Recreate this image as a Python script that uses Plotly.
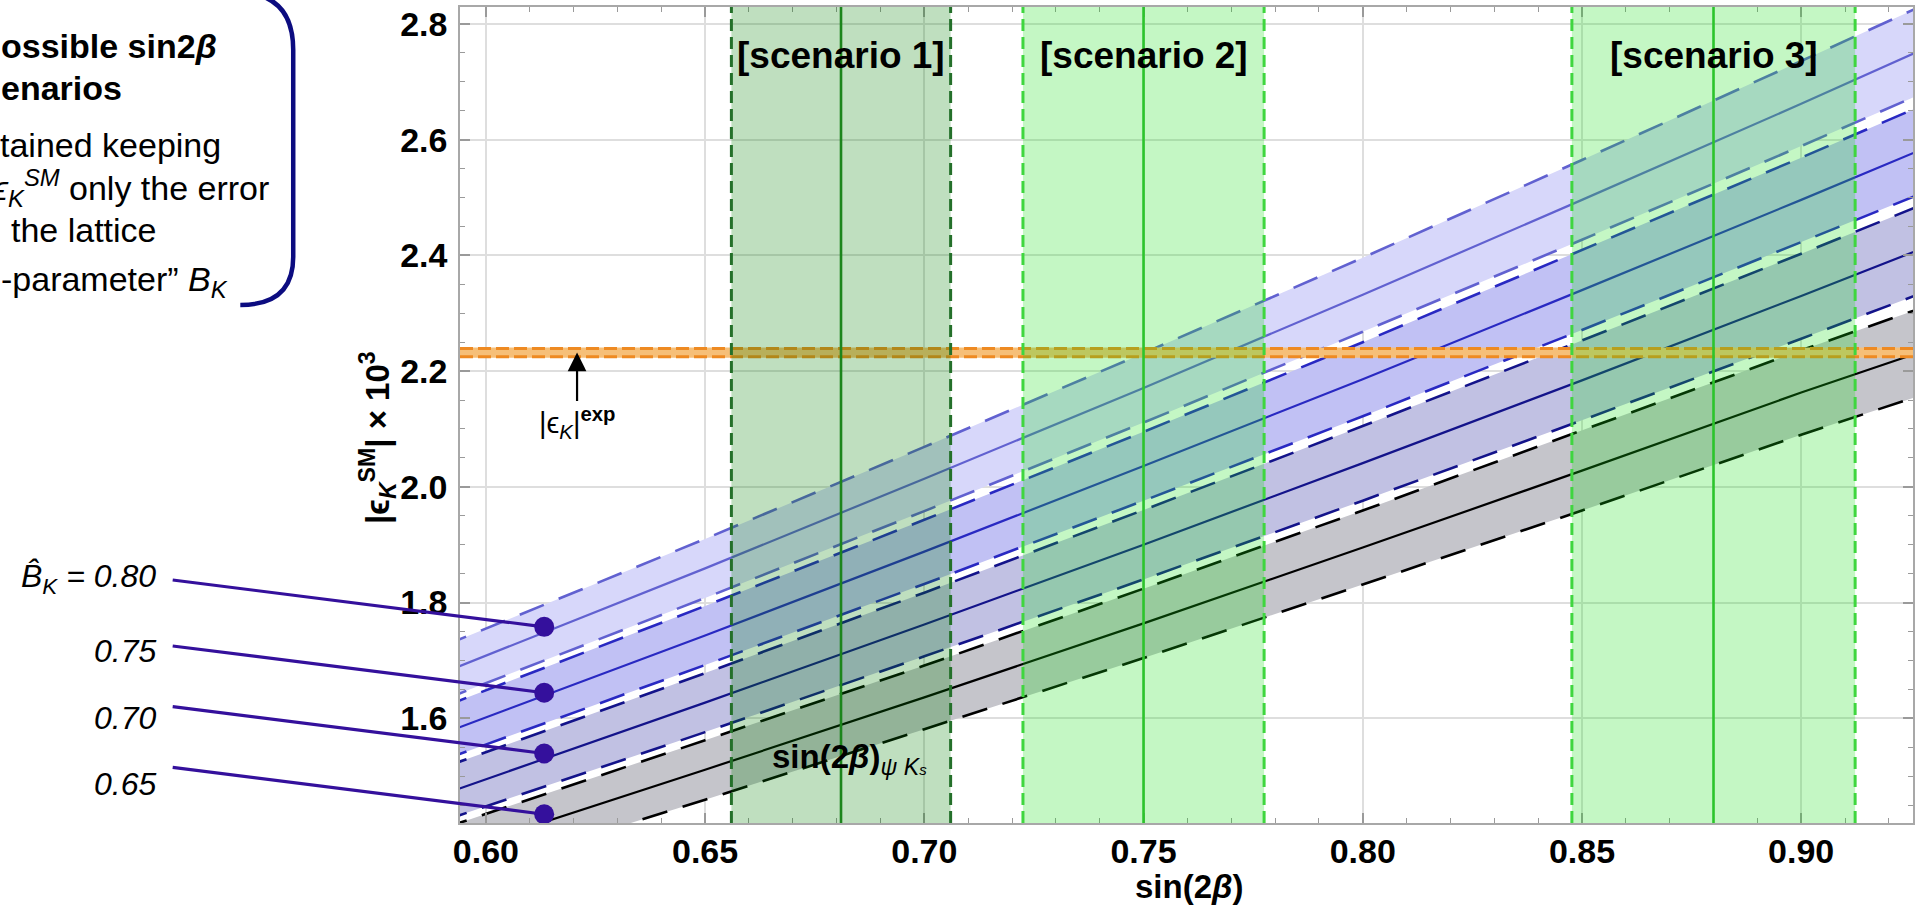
import numpy as np
import plotly.graph_objects as go

# ---------------- data ----------------
# sin(2beta) sample points along each curve
S2B = [0.59, 0.65, 0.70, 0.75, 0.80, 0.85, 0.90, 0.93]

BK_VALUES = [0.80, 0.75, 0.70, 0.65]

# |eps_K^SM| x 10^3 : central curves and lattice-error edges for each B_K
EPS_080_MID = [1.678, 1.859, 2.014, 2.171, 2.332, 2.496, 2.662, 2.764]
EPS_080_HI = [1.724, 1.910, 2.069, 2.231, 2.396, 2.565, 2.736, 2.840]
EPS_080_LO = [1.631, 1.808, 1.958, 2.111, 2.268, 2.427, 2.589, 2.688]

EPS_075_MID = [1.573, 1.743, 1.888, 2.036, 2.186, 2.340, 2.496, 2.591]
EPS_075_HI = [1.619, 1.794, 1.943, 2.095, 2.250, 2.409, 2.569, 2.667]
EPS_075_LO = [1.527, 1.692, 1.832, 1.976, 2.122, 2.271, 2.423, 2.515]

EPS_070_MID = [1.468, 1.627, 1.762, 1.900, 2.041, 2.184, 2.330, 2.419]
EPS_070_HI = [1.514, 1.678, 1.817, 1.960, 2.105, 2.253, 2.403, 2.495]
EPS_070_LO = [1.422, 1.576, 1.707, 1.840, 1.976, 2.115, 2.256, 2.342]

EPS_065_MID = [1.363, 1.511, 1.636, 1.764, 1.895, 2.028, 2.163, 2.240]
EPS_065_HI = [1.409, 1.562, 1.691, 1.824, 1.959, 2.097, 2.236, 2.316]
EPS_065_LO = [1.317, 1.459, 1.581, 1.704, 1.831, 1.959, 2.090, 2.165]

# markers tying each B_K label to its curve
DOT_S2B = 0.6133
DOT_EPS = [1.758, 1.644, 1.539, 1.434]
BK_LABELS = ["<i>B\u0302</i><sub><i>K</i></sub><i> = 0.80</i>", "<i>0.75</i>", "<i>0.70</i>", "<i>0.65</i>"]

# experimental value of |eps_K| x 10^3
EPS_EXP = 2.232
EPS_EXP_ERR = 0.009
EPS_EXP_ARROW_S2B = 0.6208

# sin(2beta) scenarios: central value and half width
SCEN_NAMES = ["[scenario 1]", "[scenario 2]", "[scenario 3]"]
SCEN_CENTER = [0.681, 0.750, 0.880]
SCEN_HALF = [0.025, 0.0275, 0.0323]

X_TICKS = [0.60, 0.65, 0.70, 0.75, 0.80, 0.85, 0.90]
X_TICK_TEXT = ["0.60", "0.65", "0.70", "0.75", "0.80", "0.85", "0.90"]
Y_TICKS = [1.6, 1.8, 2.0, 2.2, 2.4, 2.6, 2.8]
Y_TICK_TEXT = ["1.6", "1.8", "2.0", "2.2", "2.4", "2.6", "2.8"]

X_RANGE = [0.5941, 0.9255]
Y_RANGE = [1.4189, 2.8294]

# ---------------- styling ----------------
W, H = 1920, 908
ML, MR, MT, MB = 460, 5, 7, 85
PW, PH = W - ML - MR, H - MT - MB

FONT = "Liberation Sans, Arial, Helvetica, sans-serif"

BAND_FILL = ["#d7d7fa", "#c1c1f4", "#c1c1e3", "#c5c5cb"]
BAND_LINE = ["#6161d0", "#2929c2", "#13138a", "#000000"]
INDIGO = "#34109c"


def px_x(px):
    return (px - ML) / PW


def px_y(py):
    return (H - MB - py) / PH


bands = [
    (EPS_080_LO, EPS_080_MID, EPS_080_HI),
    (EPS_075_LO, EPS_075_MID, EPS_075_HI),
    (EPS_070_LO, EPS_070_MID, EPS_070_HI),
    (EPS_065_LO, EPS_065_MID, EPS_065_HI),
]

fig = go.Figure()

# band fills first
for (lo, mid, hi), fc in zip(bands, BAND_FILL):
    fig.add_trace(go.Scatter(x=S2B, y=lo, mode="lines", line=dict(width=0),
                             hoverinfo="skip", showlegend=False))
    fig.add_trace(go.Scatter(x=S2B, y=hi, mode="lines", line=dict(width=0),
                             fill="tonexty", fillcolor=fc,
                             hoverinfo="skip", showlegend=False))

# band edges (dashed) and central curves (solid)
for (lo, mid, hi), lc in zip(bands, BAND_LINE):
    for edge in (hi, lo):
        fig.add_trace(go.Scatter(x=S2B, y=edge, mode="lines",
                                 line=dict(color=lc, width=2.6, dash="26px,16px"),
                                 hoverinfo="skip", showlegend=False))
    fig.add_trace(go.Scatter(x=S2B, y=mid, mode="lines",
                             line=dict(color=lc, width=2.2),
                             hoverinfo="skip", showlegend=False))

# B_K markers
fig.add_trace(go.Scatter(x=[DOT_S2B] * len(DOT_EPS), y=DOT_EPS, mode="markers",
                         marker=dict(size=20, color=INDIGO),
                         hoverinfo="skip", showlegend=False, cliponaxis=False))

shapes = []

# experimental band
shapes.append(dict(type="rect", xref="paper", yref="y", x0=0, x1=1,
                   y0=EPS_EXP - EPS_EXP_ERR, y1=EPS_EXP + EPS_EXP_ERR,
                   fillcolor="#f6bf78", line=dict(width=0), layer="above"))
for yv in (EPS_EXP - EPS_EXP_ERR * 0.8, EPS_EXP + EPS_EXP_ERR * 0.8):
    shapes.append(dict(type="line", xref="paper", yref="y", x0=0, x1=1, y0=yv, y1=yv,
                       line=dict(color="#ee8a22", width=3, dash="13px,5px"), layer="above"))

# scenario bands
scen_fill = ["rgba(0,128,0,0.25)", "rgba(20,225,20,0.25)", "rgba(20,225,20,0.25)"]
scen_edge = ["#24702a", "#3fd63f", "#3fd63f"]
scen_mid = ["#1c851c", "#2cc42c", "#2cc42c"]
for c, hw, fc in zip(SCEN_CENTER, SCEN_HALF, scen_fill):
    shapes.append(dict(type="rect", xref="x", yref="paper", x0=c - hw, x1=c + hw, y0=0, y1=1,
                       fillcolor=fc, line=dict(width=0), layer="above"))
for c, hw, ec, mc in zip(SCEN_CENTER, SCEN_HALF, scen_edge, scen_mid):
    for xv in (c - hw, c + hw):
        shapes.append(dict(type="line", xref="x", yref="paper", x0=xv, x1=xv, y0=0, y1=1,
                           line=dict(color=ec, width=3, dash="12px,6px"), layer="above"))
    shapes.append(dict(type="line", xref="x", yref="paper", x0=c, x1=c, y0=0, y1=1,
                       line=dict(color=mc, width=2.6), layer="above"))

# rounded bracket closing the note box at top left
bx = [235, 293, 293, 293, 293, 240]
by = [-8, -8, 50, 257, 305, 305]
path = "M {:.5f},{:.5f} Q {:.5f},{:.5f} {:.5f},{:.5f} L {:.5f},{:.5f} Q {:.5f},{:.5f} {:.5f},{:.5f}".format(
    px_x(bx[0]), px_y(by[0]), px_x(bx[1]), px_y(by[1]), px_x(bx[2]), px_y(by[2]),
    px_x(bx[3]), px_y(by[3]), px_x(bx[4]), px_y(by[4]), px_x(bx[5]), px_y(by[5]))
shapes.append(dict(type="path", xref="paper", yref="paper", path=path,
                   line=dict(color="#0c0c80", width=4.5), layer="above"))

annotations = []

# note box text
note_lines = [
    ("<b>ossible sin2<i>β</i></b>", -2, 46, 34),
    ("<b>enarios</b>", -2, 88, 34),
    ("tained keeping", -3, 145, 34),
    ("<i>ϵ</i><sub><i>K</i></sub><sup><i>SM</i></sup> only the error", -10, 188, 34),
    ("the lattice", 8, 230, 34),
    ("-parameter\u201d <i>B</i><sub><i>K</i></sub>", -2, 281, 34),
]
for txt, x0, yc, fs in note_lines:
    annotations.append(dict(text=txt, xref="paper", yref="paper", x=px_x(x0), y=px_y(yc),
                            xanchor="left", yanchor="middle", showarrow=False,
                            font=dict(family=FONT, size=fs, color="black")))

# B_K labels and their connector lines
label_centers = [578, 651, 718, 784]
for lab, yc in zip(BK_LABELS, label_centers):
    annotations.append(dict(text=lab, xref="paper", yref="paper", x=px_x(158), y=px_y(yc),
                            xanchor="right", yanchor="middle", showarrow=False,
                            font=dict(family=FONT, size=32, color="black")))
for ev in DOT_EPS:
    annotations.append(dict(text="", x=DOT_S2B, y=ev, xref="x", yref="y",
                            ax=-373, ay=-47, axref="pixel", ayref="pixel",
                            showarrow=True, arrowhead=0, arrowwidth=3.2,
                            arrowcolor=INDIGO, standoff=6))

# experimental label with arrow
annotations.append(dict(text="|ϵ<sub><i>K</i></sub>|<sup><b>exp</b></sup>",
                        x=EPS_EXP_ARROW_S2B, y=EPS_EXP, xref="x", yref="y",
                        ax=0, ay=70, axref="pixel", ayref="pixel",
                        showarrow=True, arrowhead=2, arrowsize=1.7, arrowwidth=2.2,
                        arrowcolor="black", standoff=0,
                        font=dict(family=FONT, size=29, color="black")))

# scenario labels
for name, c in zip(SCEN_NAMES, SCEN_CENTER):
    annotations.append(dict(text="<b>" + name + "</b>", x=c, y=px_y(55), xref="x", yref="paper",
                            xanchor="center", yanchor="middle", showarrow=False,
                            font=dict(family=FONT, size=37, color="black")))

# measured sin(2beta) label
annotations.append(dict(text="<b>sin(2<i>β</i>)</b><sub><i>ψ K</i><span style='font-size:15px'><i>s</i></span></sub>",
                        x=SCEN_CENTER[0] + 0.002, y=1.530, xref="x", yref="y",
                        xanchor="center", yanchor="middle", showarrow=False,
                        font=dict(family=FONT, size=33, color="black")))

# axis titles
annotations.append(dict(text="<b>sin(2<i>β</i>)</b>", xref="paper", yref="paper",
                        x=px_x(1191), y=px_y(886), xanchor="center", yanchor="middle",
                        showarrow=False, font=dict(family=FONT, size=33, color="black")))
annotations.append(dict(text="<b>|ϵ<sub><i>K</i></sub><sup>SM</sup>| × 10<sup>3</sup></b>",
                        xref="paper", yref="paper", x=px_x(377), y=px_y(438),
                        xanchor="center", yanchor="middle", textangle=-90,
                        showarrow=False, font=dict(family=FONT, size=33, color="black")))

minor_x = [round(v, 3) for v in np.arange(0.59, 0.931, 0.01)]
minor_y = [round(v, 3) for v in np.arange(1.45, 2.83, 0.05)]

axis_common = dict(showgrid=True, gridcolor="#dedede", gridwidth=1.5, zeroline=False,
                   showline=True, linecolor="#a8a8a8", linewidth=1.5, mirror="allticks",
                   ticks="inside", ticklen=10, tickwidth=1.5, tickcolor="#9a9a9a",
                   tickfont=dict(family=FONT, size=34, color="black", weight="bold"))

fig.update_layout(
    width=W, height=H, autosize=False,
    margin=dict(l=ML, r=MR, t=MT, b=MB, pad=0),
    paper_bgcolor="white", plot_bgcolor="white",
    showlegend=False,
    shapes=shapes, annotations=annotations,
    xaxis=dict(range=X_RANGE, tickmode="array", tickvals=X_TICKS, ticktext=X_TICK_TEXT,
               ticklabelstandoff=-3,
               minor=dict(tickmode="array", tickvals=minor_x, ticks="inside", ticklen=5,
                          tickwidth=1.2, tickcolor="#9a9a9a", showgrid=False),
               **axis_common),
    yaxis=dict(range=Y_RANGE, tickmode="array", tickvals=Y_TICKS, ticktext=Y_TICK_TEXT,
               ticklabelstandoff=4,
               minor=dict(tickmode="array", tickvals=minor_y, ticks="inside", ticklen=5,
                          tickwidth=1.2, tickcolor="#9a9a9a", showgrid=False),
               **axis_common),
)

fig.write_html("out.html")
